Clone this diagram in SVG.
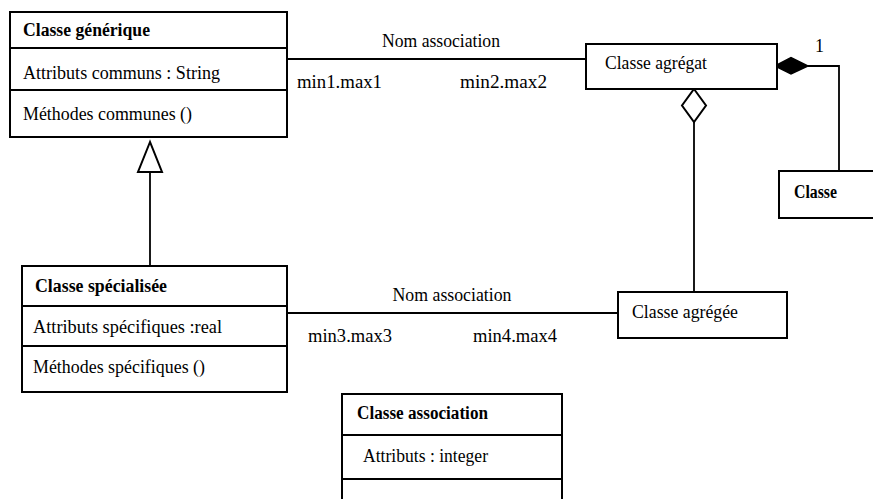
<svg xmlns="http://www.w3.org/2000/svg" width="873" height="499" viewBox="0 0 873 499">
<style>
.box{fill:#fff;stroke:#000;stroke-width:2}
.div{stroke:#000;stroke-width:2}
.ln{stroke:#000;stroke-width:1.8;fill:none}
text{font-family:"Liberation Serif","Times New Roman",serif;font-size:18px;fill:#000}
.b{font-weight:bold}
</style>
<rect width="873" height="499" fill="#fff"/>
<g id="connectors">
<line class="ln" x1="287" y1="59" x2="586" y2="59"/>
<line class="ln" x1="287" y1="313" x2="618" y2="313"/>
<line class="ln" x1="150" y1="172" x2="150" y2="266"/>
<polygon points="150,142 138,172 162,172" fill="#fff" stroke="#000" stroke-width="2"/>
<line class="ln" x1="694" y1="122" x2="694" y2="292"/>
<polygon points="694,89 706,105.5 694,122 682,105.5" fill="#fff" stroke="#000" stroke-width="2"/>
<polyline class="ln" points="808,66 839,66 839,171"/>
<polygon points="775,66 791,57.5 808,66 791,74" fill="#000" stroke="#000" stroke-width="1.5"/>
<text x="441" y="47" text-anchor="middle" textLength="118" lengthAdjust="spacingAndGlyphs">Nom association</text>
<text x="297" y="88" textLength="85" lengthAdjust="spacingAndGlyphs">min1.max1</text>
<text x="460" y="88" textLength="87" lengthAdjust="spacingAndGlyphs">min2.max2</text>
<text x="815" y="52" font-size="15">1</text>
<text x="452" y="301" text-anchor="middle" textLength="119" lengthAdjust="spacingAndGlyphs">Nom association</text>
<text x="308" y="342" textLength="84" lengthAdjust="spacingAndGlyphs">min3.max3</text>
<text x="473" y="342" textLength="84" lengthAdjust="spacingAndGlyphs">min4.max4</text>
</g>
<g id="classe-generique">
<rect class="box" x="10" y="12" width="277" height="125"/>
<line class="div" x1="10" y1="48" x2="287" y2="48"/>
<line class="div" x1="10" y1="90" x2="287" y2="90"/>
<text class="b" x="23" y="36" textLength="127" lengthAdjust="spacingAndGlyphs">Classe générique</text>
<text x="23" y="79" textLength="197" lengthAdjust="spacingAndGlyphs">Attributs communs : String</text>
<text x="23" y="120" textLength="169" lengthAdjust="spacingAndGlyphs">Méthodes communes ()</text>
</g>
<g id="classe-specialisee">
<rect class="box" x="22" y="266" width="265" height="126"/>
<line class="div" x1="22" y1="306" x2="287" y2="306"/>
<line class="div" x1="22" y1="346" x2="287" y2="346"/>
<text class="b" x="35" y="292" textLength="132" lengthAdjust="spacingAndGlyphs">Classe spécialisée</text>
<text x="33" y="333" textLength="189" lengthAdjust="spacingAndGlyphs">Attributs spécifiques :real</text>
<text x="33" y="373" textLength="172" lengthAdjust="spacingAndGlyphs">Méthodes spécifiques ()</text>
</g>
<g id="classe-agregat">
<rect class="box" x="586" y="44" width="191" height="45"/>
<text x="605" y="69" textLength="102" lengthAdjust="spacingAndGlyphs">Classe agrégat</text>
</g>
<g id="classe">
<rect class="box" x="779" y="171" width="110" height="47"/>
<text class="b" x="794" y="198" textLength="43" lengthAdjust="spacingAndGlyphs">Classe</text>
</g>
<g id="classe-agregee">
<rect class="box" x="618" y="292" width="169" height="46"/>
<text x="632" y="318" textLength="106" lengthAdjust="spacingAndGlyphs">Classe agrégée</text>
</g>
<g id="classe-association">
<rect class="box" x="342" y="394" width="220" height="120"/>
<line class="div" x1="342" y1="435" x2="562" y2="435"/>
<line class="div" x1="342" y1="479" x2="562" y2="479"/>
<text class="b" x="357" y="419" textLength="131" lengthAdjust="spacingAndGlyphs">Classe association</text>
<text x="363" y="462" textLength="125" lengthAdjust="spacingAndGlyphs">Attributs : integer</text>
</g>
</svg>
